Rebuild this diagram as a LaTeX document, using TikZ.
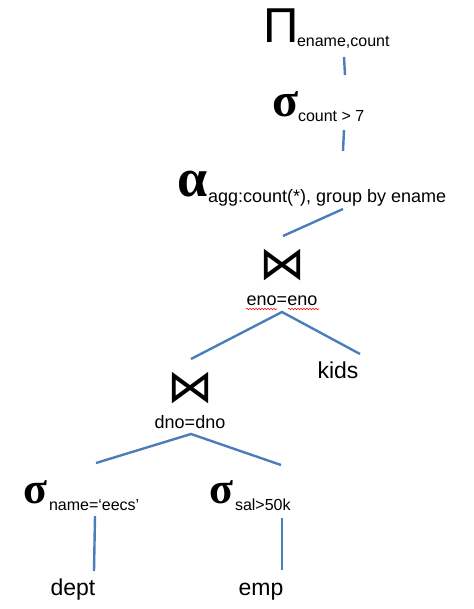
\documentclass[tikz,border=0pt]{standalone}
\usepackage{fontspec}
\setmainfont{Liberation Sans}
\newfontfamily\greekf{Liberation Serif}
\newfontfamily\symf{DejaVu Sans}
\usetikzlibrary{decorations.pathmorphing}
\definecolor{edgeblue}{HTML}{4A7EBB}
\tikzset{
  lbl/.style={inner sep=0pt, outer sep=0pt, anchor=base west},
  sub/.style={lbl, font=\fontsize{16}{16}\selectfont},
  rel/.style={inner sep=0pt, outer sep=0pt, anchor=base, font=\fontsize{23}{23}\selectfont},
  cond/.style={inner sep=0pt, outer sep=0pt, anchor=base, font=\fontsize{18}{18}\selectfont},
  joinop/.style={inner sep=0pt, outer sep=0pt, anchor=center, font=\symf\fontsize{46}{46}\selectfont},
  edge/.style={draw=edgeblue, line width=2.4pt},
  spell/.style={draw=red, line width=0.6pt, decorate, decoration={snake, amplitude=0.7pt, segment length=3pt}}
}
\begin{document}
\begin{tikzpicture}[x=1pt,y=-1pt]
\useasboundingbox (0,0) rectangle (473,609);
% projection
\node[lbl, font=\fontsize{49}{49}\selectfont] (pi) at (263,43) {Π};
\node[sub] (pisub) at (297,47) {ename,count};
% selection count > 7
\node[lbl, font=\greekf\bfseries\fontsize{48}{48}\selectfont] (sig1) at (272,117) {σ};
\node[sub] (sig1sub) at (298,122) {count > 7};
% aggregation
\node[lbl, font=\greekf\bfseries\fontsize{54}{54}\selectfont] (alpha) at (177,197) {α};
\node[sub, font=\fontsize{18}{18}\selectfont] (alphasub) at (208,203) {agg:count(*), group by ename};
% top join
\node[joinop] (join1) at (282.5,265.5) {⋈};
\node[cond] (cond1) at (282,305) {eno=eno};
\draw[spell] (246,309) -- (277,309);
\draw[spell] (288,309) -- (319,309);
\node[rel] (kids) at (338,378) {kids};
% lower join
\node[joinop] (join2) at (190.5,388.5) {⋈};
\node[cond] (cond2) at (190,428) {dno=dno};
% selections
\node[lbl, font=\greekf\bfseries\fontsize{44}{44}\selectfont] (sig2) at (23,503) {σ};
\node[sub] (sig2sub) at (49,510) {name=‘eecs’};
\node[lbl, font=\greekf\bfseries\fontsize{44}{44}\selectfont] (sig3) at (209,503) {σ};
\node[sub] (sig3sub) at (235,510) {sal>50k};
% base relations
\node[rel] (dept) at (73,595) {dept};
\node[rel] (emp) at (261,595) {emp};
% connector end points
\coordinate (e1a) at (344,57);  \coordinate (e1b) at (345,75);
\coordinate (e2a) at (344,130); \coordinate (e2b) at (343,151);
\coordinate (e3a) at (343,209); \coordinate (e3b) at (283,236);
\coordinate (j1top) at (282,312); \coordinate (j1l) at (191,359); \coordinate (j1r) at (360,354);
\coordinate (j2top) at (191,434); \coordinate (j2l) at (96,463); \coordinate (j2r) at (281,465);
\coordinate (s2a) at (95,516);  \coordinate (s2b) at (94,571);
\coordinate (s3a) at (282,518); \coordinate (s3b) at (282,570);
% connectors
\draw[edge] (e1a) -- (e1b);
\draw[edge] (e2a) -- (e2b);
\draw[edge] (e3a) -- (e3b);
\draw[edge] (j1l) -- (j1top) -- (j1r);
\draw[edge] (j2l) -- (j2top) -- (j2r);
\draw[edge] (s2a) -- (s2b);
\draw[edge] (s3a) -- (s3b);
\end{tikzpicture}
\end{document}
